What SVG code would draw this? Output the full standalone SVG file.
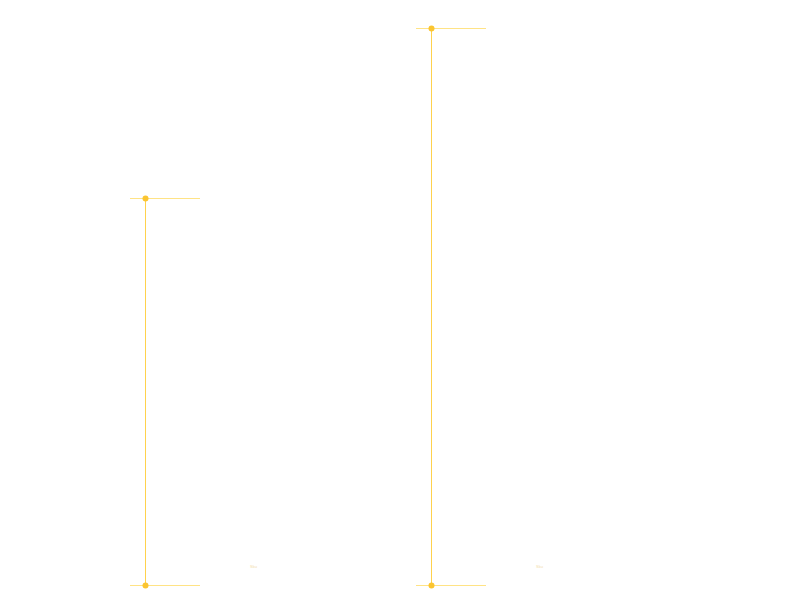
<svg xmlns="http://www.w3.org/2000/svg" width="800" height="600" viewBox="0 0 800 600">
<style>
.stem{stroke:#ffd24d;stroke-width:1;fill:none}
.tick{stroke:#ffdc66;stroke-width:1.2;fill:none;opacity:0.8}
.dot{fill:#fbc531}
.lbl{font-family:"Liberation Sans",Arial,sans-serif;font-size:4px;fill:#f3dca8;text-anchor:middle}
</style>
<rect width="800" height="600" fill="#ffffff"/>
<g id="connectors">
<line class="stem" x1="145.5" y1="198.5" x2="145.5" y2="585.5"/>
<line class="stem" x1="431.5" y1="28.5" x2="431.5" y2="585.5"/>
</g>
<g id="bar1">
<line class="tick" x1="130" y1="198.5" x2="200" y2="198.5"/>
<line class="tick" x1="130" y1="585.5" x2="200" y2="585.5"/>
<circle class="dot" cx="145.5" cy="198.5" r="3"/>
<circle class="dot" cx="145.5" cy="585.5" r="3"/>
<text class="lbl" x="253.5" y="568">Sku</text>
</g>
<g id="bar2">
<line class="tick" x1="416" y1="28.5" x2="486" y2="28.5"/>
<line class="tick" x1="416" y1="585.5" x2="486" y2="585.5"/>
<circle class="dot" cx="431.5" cy="28.5" r="3"/>
<circle class="dot" cx="431.5" cy="585.5" r="3"/>
<text class="lbl" x="539.5" y="568">Sku</text>
</g>
</svg>
